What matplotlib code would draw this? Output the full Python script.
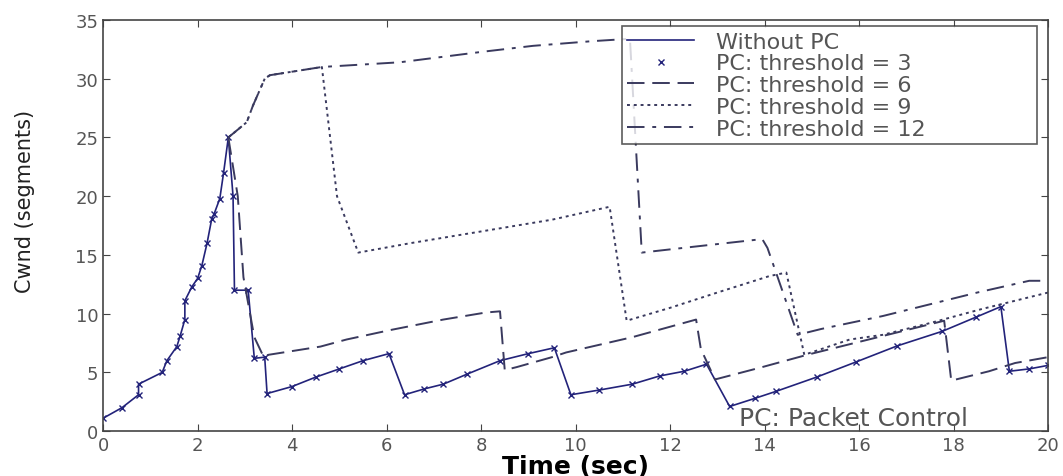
import matplotlib.pyplot as plt

# ----------------------------
# Data
# ----------------------------
t_nopc = [0, 0.4, 0.75, 0.75, 1.25, 1.35, 1.56, 1.63, 1.73, 1.73, 1.88, 2.0, 2.09, 2.2, 2.3,
          2.35, 2.47, 2.55, 2.65, 2.75, 2.78, 3.07, 3.2, 3.42, 3.47, 4.0, 4.5, 5.0, 5.5,
          6.05, 6.38, 6.8, 7.2, 7.7, 8.4, 9.0, 9.55, 9.9, 10.5, 11.2, 11.78, 12.3, 12.77,
          13.26, 13.8, 14.25, 15.1, 15.94, 16.8, 17.76, 18.47, 19.0, 19.18, 19.6, 20.0]
cw_nopc = [1.1, 2.0, 3.1, 4.0, 5.0, 6.0, 7.2, 8.1, 9.5, 11.1, 12.3, 13.0, 14.1, 16.0, 18.1,
           18.5, 19.8, 22.0, 25.0, 20.0, 12.0, 12.0, 6.2, 6.3, 3.2, 3.8, 4.6, 5.3, 6.0,
           6.6, 3.1, 3.6, 4.0, 4.85, 6.0, 6.6, 7.1, 3.1, 3.5, 4.0, 4.7, 5.1, 5.7,
           2.1, 2.8, 3.4, 4.6, 5.9, 7.25, 8.5, 9.7, 10.6, 5.1, 5.3, 5.6]

t_th6 = [2.65, 2.85, 2.97, 3.2, 3.4, 3.5, 4.6, 5.15, 6.07, 7.2, 8.1, 8.4, 8.5, 8.75, 9.5,
         9.8, 11.2, 12.55, 12.65, 12.95, 13.9, 14.9, 15.9, 16.9, 17.8, 17.95, 18.75, 19.3, 20.0]
cw_th6 = [25.0, 20.0, 13.1, 8.0, 6.3, 6.5, 7.2, 7.8, 8.6, 9.5, 10.1, 10.2, 5.2, 5.45, 6.3,
          6.7, 8.0, 9.5, 7.0, 4.4, 5.4, 6.5, 7.5, 8.5, 9.4, 4.3, 5.1, 5.8, 6.3]

t_th9 = [2.65, 3.04, 3.17, 3.42, 3.53, 4.63, 4.95, 5.4, 6.5, 8.0, 9.5, 10.72, 11.08, 12.0,
         13.0, 14.1, 14.46, 14.84, 15.8, 16.5, 17.5, 18.6, 20.0]
cw_th9 = [25.0, 26.3, 27.7, 30.0, 30.3, 31.0, 20.0, 15.2, 16.0, 17.0, 18.0, 19.1, 9.4, 10.5,
          11.8, 13.2, 13.5, 6.5, 7.8, 8.2, 9.2, 10.4, 11.8]

t_th12 = [2.65, 3.04, 3.17, 3.42, 3.53, 4.63, 6.28, 8.04, 9.1, 10.36, 11.15, 11.4, 12.5,
          13.95, 14.06, 14.7, 15.2, 16.5, 17.4, 18.5, 19.6, 20.0]
cw_th12 = [25.0, 26.3, 27.7, 30.0, 30.3, 31.0, 31.4, 32.3, 32.8, 33.2, 33.4, 15.2, 15.7,
           16.35, 15.6, 8.2, 8.7, 9.8, 10.7, 11.8, 12.8, 12.8]

labels = ['Without PC', 'PC: threshold = 3', 'PC: threshold = 6',
          'PC: threshold = 9', 'PC: threshold = 12']

blue = '#23237a'
grey = '#3a3a5e'

fig = plt.figure(figsize=(10.63, 4.77), dpi=100)
ax = fig.add_axes([0.097, 0.094, 0.889, 0.862])

ax.plot(t_nopc, cw_nopc, color=blue, lw=1.2, label=labels[0])
ax.plot(t_nopc, cw_nopc, ls='none', marker='x', ms=4, mew=1, color=blue, label=labels[1])
ax.plot(t_th6, cw_th6, color=grey, lw=1.4, ls=(0, (9, 4)), label=labels[2])
ax.plot(t_th9, cw_th9, color=grey, lw=1.4, ls=(0, (1.5, 2)), label=labels[3])
ax.plot(t_th12, cw_th12, color=grey, lw=1.4, ls=(0, (9, 4, 2, 4)), label=labels[4])

ax.set_xlim(0, 20)
ax.set_ylim(0, 35)
ax.set_xticks(range(0, 21, 2))
ax.set_yticks(range(0, 36, 5))
ax.tick_params(direction='in', top=True, right=True, length=5, labelsize=13,
               labelcolor='#555555', color='#444444')
for s in ax.spines.values():
    s.set_color('#444444')
    s.set_linewidth(1.2)

ax.set_xlabel('Time (sec)', fontsize=18, fontweight='bold', labelpad=0)
ax.set_ylabel('Cwnd (segments)', fontsize=15, color='#222222')
ax.yaxis.set_label_coords(-0.072, 0.56)

ax.text(13.45, 0.55, 'PC: Packet Control', fontsize=18, color='#555555')

# legend box stretched over the same span as in the reference
leg = ax.legend(loc='upper right', bbox_to_anchor=(0.549, 0.5, 0.439, 0.485),
                mode='expand', fontsize=16, frameon=True, fancybox=False,
                handlelength=3.0, handletextpad=1.0, labelspacing=0.08,
                borderpad=0.25, borderaxespad=0)
leg.get_frame().set_edgecolor('#333333')
leg.get_frame().set_linewidth(1.2)
for txt in leg.get_texts():
    txt.set_color('#555555')

fig.savefig('out.png', dpi=100)
